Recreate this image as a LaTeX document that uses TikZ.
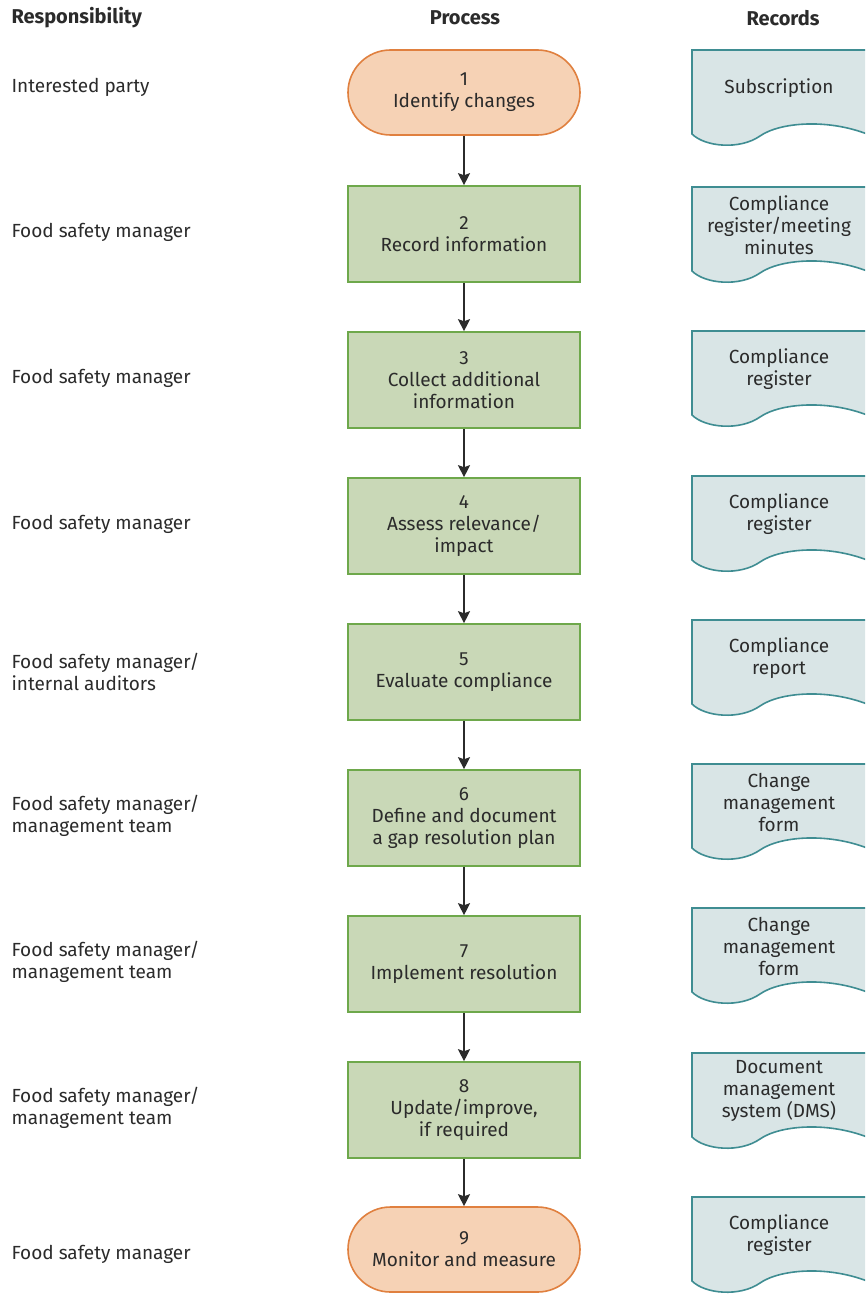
\documentclass[tikz,border=0pt]{standalone}
\usepackage{fontspec}
\setmainfont{Fira Sans}
\usetikzlibrary{arrows.meta}
\definecolor{txt}{HTML}{2B2B2B}
\definecolor{termfill}{HTML}{F6D2B5}
\definecolor{termdraw}{HTML}{E0803F}
\definecolor{boxfill}{HTML}{C9D8B7}
\definecolor{boxdraw}{HTML}{6EA84B}
\definecolor{docfill}{HTML}{D9E5E6}
\definecolor{docdraw}{HTML}{3F8D92}
\tikzset{
  base/.style={font=\fontsize{19}{22}\selectfont, text=txt, align=center},
  termbox/.style={base, draw=termdraw, fill=termfill, line width=1.6pt, minimum width=232pt, minimum height=85pt, rounded corners=42.5pt, inner sep=0pt},
  procbox/.style={base, draw=boxdraw, fill=boxfill, line width=1.6pt, minimum width=232pt, minimum height=96pt, inner sep=0pt},
  resp/.style={base, align=left, anchor=west},
  head/.style={font=\fontsize{20}{22}\selectfont\bfseries, text=txt},
  doctext/.style={base},
  flow/.style={draw=txt, line width=1.4pt, -{Stealth[length=12pt,width=12pt,inset=2pt]}},
  docshape/.style={draw=docdraw, fill=docfill, line width=1.6pt}
}
\newcommand{\docat}[3]{%
  \draw[docshape] (692,#1) -- (692,#1+84) .. controls (705,#1+97) and (740,#1+100) .. (760,#1+86) .. controls (780,#1+72) and (830,#1+68) .. (872,#1+86) -- (872,#1) -- cycle;
  \node[doctext] (#2) at (779,#1+38) {#3};
}
\begin{document}
\begin{tikzpicture}[x=1pt,y=-1pt]
\clip (0,0) rectangle (865,1300);
\fill[white] (0,0) rectangle (865,1300);
% headers
\node[head, anchor=west] (h1) at (8,18) {Responsibility};
\node[head] (h2) at (465,18) {Process};
\node[head] (h3) at (783,18) {Records};
% process
\node[termbox] (p1) at (464,92.5) {1\\Identify changes};
\node[procbox] (p2) at (464,234) {2\\Record information};
\node[procbox] (p3) at (464,380) {3\\Collect additional\\information};
\node[procbox] (p4) at (464,526) {4\\Assess relevance/\\impact};
\node[procbox] (p5) at (464,672) {5\\Evaluate compliance};
\node[procbox] (p6) at (464,818) {6\\Define and document\\a gap resolution plan};
\node[procbox] (p7) at (464,964) {7\\Implement resolution};
\node[procbox] (p8) at (464,1110) {8\\Update/improve,\\if required};
\node[termbox] (p9) at (464,1249.5) {9\\Monitor and measure};
\foreach \a/\b in {p1/p2,p2/p3,p3/p4,p4/p5,p5/p6,p6/p7,p7/p8,p8/p9}
  \draw[flow] (\a) -- (\b);
% responsibility
\node[resp] (r1) at (8,87) {Interested party};
\node[resp] (r2) at (8,232) {Food safety manager};
\node[resp] (r3) at (8,378) {Food safety manager};
\node[resp] (r4) at (8,524) {Food safety manager};
\node[resp] (r5) at (8,672) {Food safety manager/\\internal auditors};
\node[resp] (r6) at (8,816) {Food safety manager/\\management team};
\node[resp] (r7) at (8,962) {Food safety manager/\\management team};
\node[resp] (r8) at (8,1108) {Food safety manager/\\management team};
\node[resp] (r9) at (8,1254) {Food safety manager};
% records
\docat{50}{d1}{Subscription}
\docat{187}{d2}{Compliance\\register/meeting\\minutes}
\docat{331}{d3}{Compliance\\register}
\docat{476}{d4}{Compliance\\register}
\docat{620}{d5}{Compliance\\report}
\docat{764}{d6}{Change\\management\\form}
\docat{908}{d7}{Change\\management\\form}
\docat{1053}{d8}{Document\\management\\system (DMS)}
\docat{1197}{d9}{Compliance\\register}
\end{tikzpicture}
\end{document}
